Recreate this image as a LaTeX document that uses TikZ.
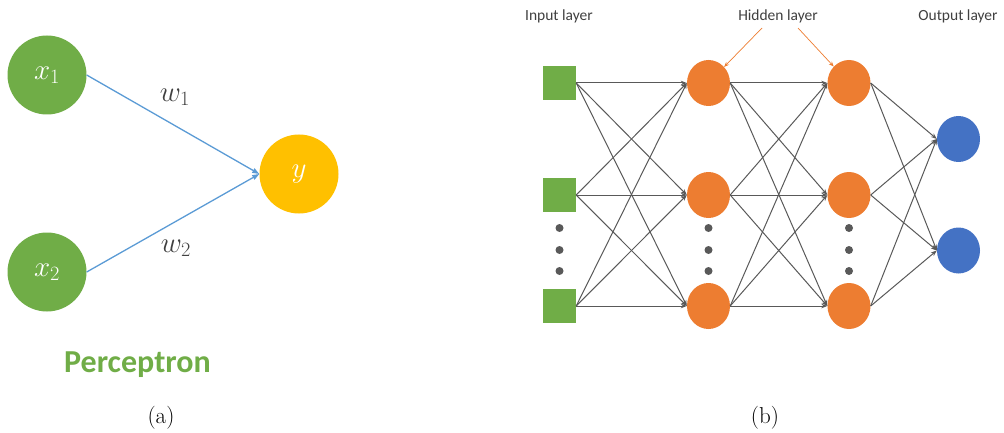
\RequirePackage{fix-cm}
\documentclass[tikz,border=0pt]{standalone}
\usepackage{fontspec}
\newfontfamily\labelfont{Carlito}
\usetikzlibrary{arrows.meta,shapes.geometric}

\definecolor{pgreen}{HTML}{70AD47}
\definecolor{pyellow}{HTML}{FFC000}
\definecolor{porange}{HTML}{ED7D31}
\definecolor{pblue}{HTML}{4472C4}
\definecolor{lblue}{HTML}{5B9BD5}
\definecolor{lgray}{HTML}{595959}
\definecolor{tgray}{HTML}{404040}

\begin{document}
\begin{tikzpicture}[x=1pt,y=-1pt,
  % perceptron
  unit/.style={circle, minimum size=79pt, inner sep=0pt, text=white,
    font=\fontsize{29}{33}\selectfont},
  inunit/.style={unit, fill=pgreen},
  outunit/.style={unit, fill=pyellow},
  wlink/.style={draw=lblue, line width=1.3pt, -{Triangle[length=7pt,width=5pt]}},
  wlabel/.style={text=tgray, font=\fontsize{29}{33}\selectfont},
  % network
  inbox/.style={rectangle, fill=pgreen, minimum width=33pt, minimum height=34pt, inner sep=0pt},
  hidunit/.style={ellipse, fill=porange, minimum width=43pt, minimum height=46pt, inner sep=0pt},
  outnode/.style={ellipse, fill=pblue, minimum width=43pt, minimum height=46pt, inner sep=0pt},
  link/.style={draw=lgray, line width=1pt, -{Stealth[length=6pt,width=4.5pt]}},
  vdot/.style={circle, fill=lgray, minimum size=8pt, inner sep=0pt},
  note/.style={draw=porange, line width=0.7pt, -{Stealth[length=5pt,width=4pt]}},
  head/.style={text=tgray, font=\labelfont\fontsize{15.5}{18}\selectfont},
  caption/.style={anchor=base, font=\fontsize{23}{27}\selectfont}
]
\useasboundingbox (0,0) rectangle (1004,433);

% ---------- (a) perceptron ----------
\node[inunit]  (x1) at (47,75)  {$x_1$};
\node[inunit]  (x2) at (47,272) {$x_2$};
\node[outunit] (y)  at (299,174) {$y$};
\draw[wlink] (x1.east) -- (y.west);
\draw[wlink] (x2.east) -- (y.west);
\node[wlabel] (w1) at (175,97)  {$w_1$};
\node[wlabel] (w2) at (176,248) {$w_2$};
\node[anchor=base, text=pgreen, font=\labelfont\bfseries\fontsize{32}{36}\selectfont]
  (ptitle) at (137.5,372) {Perceptron};
\node[caption] (capa) at (161,423) {(a)};

% ---------- (b) multilayer network ----------
\node[head] (hin)  at (559,16.5) {Input layer};
\node[head] (hhid) at (778,16.5) {Hidden layer};
\node[head] (hout) at (958,16.5) {Output layer};

\node[inbox] (i1) at (559.5,83)  {};
\node[inbox] (i2) at (559.5,195) {};
\node[inbox] (i3) at (559.5,306) {};

\node[hidunit] (h1) at (708.5,83)  {};
\node[hidunit] (h2) at (708.5,195) {};
\node[hidunit] (h3) at (708.5,306) {};

\node[hidunit] (g1) at (849,83)  {};
\node[hidunit] (g2) at (849,195) {};
\node[hidunit] (g3) at (849,306) {};

\node[outnode] (o1) at (958.5,139)   {};
\node[outnode] (o2) at (958.5,250.5) {};

\foreach \c/\px in {a/559.5, b/708.5, c/849}{
  \node[vdot] (d\c1) at (\px,228) {};
  \node[vdot] (d\c2) at (\px,250) {};
  \node[vdot] (d\c3) at (\px,271) {};
}

\foreach \s in {i1,i2,i3}
  \foreach \t in {h1,h2,h3}
    \draw[link] (\s.east) -- (\t.west);
\foreach \s in {h1,h2,h3}
  \foreach \t in {g1,g2,g3}
    \draw[link] (\s.east) -- (\t.west);
\foreach \s in {g1,g2,g3}
  \foreach \t in {o1,o2}
    \draw[link] (\s.east) -- (\t.west);

\coordinate (n1) at (762,28);
\coordinate (n2) at (798,28);
\draw[note] (n1) -- (h1);
\draw[note] (n2) -- (g1);

\node[caption] (capb) at (765,423) {(b)};
\end{tikzpicture}
\end{document}
